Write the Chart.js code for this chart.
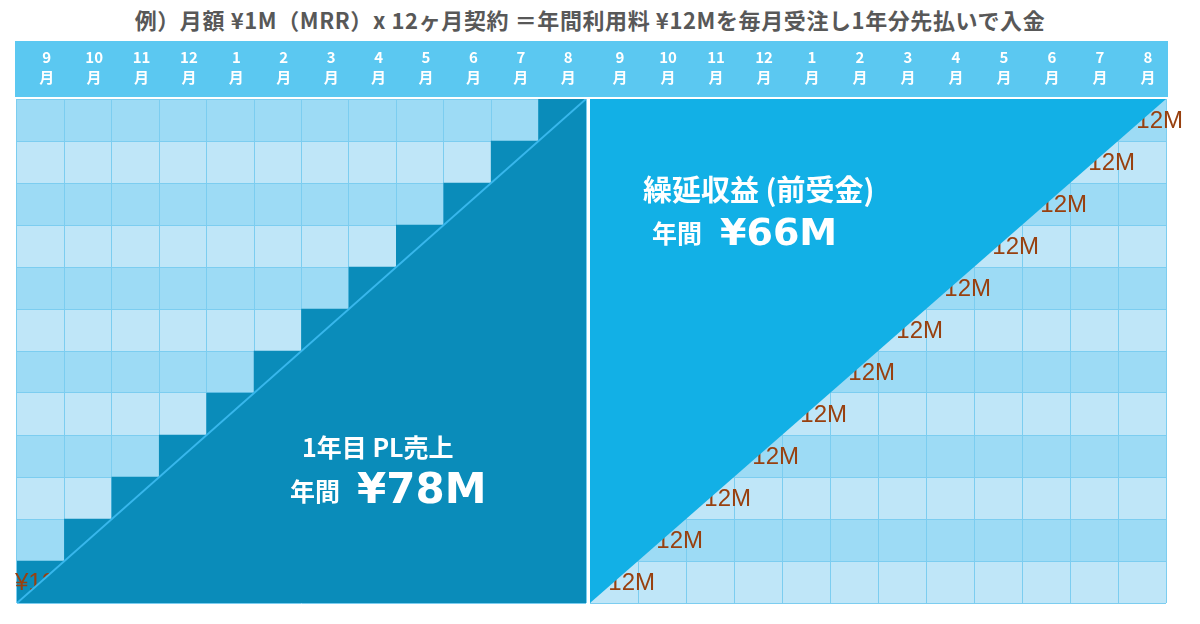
<!DOCTYPE html>
<html>
<head>
<meta charset="utf-8">
<script src="https://cdn.jsdelivr.net/npm/chart.js"></script>
<style>
body { margin: 0; background: #ffffff; width: 1200px; height: 624px; overflow: hidden; position: relative; }
#titre { position: absolute; left: 0; top: 3px; width: 1180px; text-align: center; font: bold 22px "Noto Sans CJK JP", sans-serif; letter-spacing: 0.6px; color: #585858; }
#gauche { position: absolute; left: 0; top: 41px; }
#droite { position: absolute; left: 588px; top: 41px; }
</style>
</head>
<body>
<div id="titre">例）月額 ¥1M（MRR）x 12ヶ月契約 ＝年間利用料 ¥12Mを毎月受注し1年分先払いで入金</div>
<canvas id="gauche" width="588" height="583"></canvas>
<canvas id="droite" width="612" height="583"></canvas>
<script>
// mois du contrat (sept -> aout)
var months = ["9", "10", "11", "12", "1", "2", "3", "4", "5", "6", "7", "8"];
// PL : mois reconnus cumulés (escalier)
var plMonths = [1, 2, 3, 4, 5, 6, 7, 8, 9, 10, 11, 12];
// diagonale 0 -> 12
var diagonal = [{x: 0, y: 0}, {x: 12, y: 12}];
var orderLabel = "¥12M";
var leftLabelRows = [0];
var rightLabelRows = [0, 1, 2, 3, 4, 5, 6, 7, 8, 9, 10, 11];

var DARK = "#0a8cba";
var BRIGHT = "#12b0e6";
var HEADER = "#5bc8f1";
var ROW_LIGHT = "#bfe6f8";
var ROW_MED = "#9ddbf5";
var GRID = "#7ccdf0";
var BROWN = "#98400f";

var fondPlugin = {
    id: "fond",
    beforeDraw: function (chart) {
        var ctx = chart.ctx;
        var a = chart.chartArea;
        var y = chart.scales.y;
        ctx.save();
        ctx.fillStyle = HEADER;
        ctx.fillRect(a.left - 2, 0, a.right - a.left + 4, a.top - 2);
        for (var r = 0; r < 12; r++) {
            ctx.fillStyle = (r % 2 == 0) ? ROW_LIGHT : ROW_MED;
            var top = y.getPixelForValue(r + 1);
            var bot = y.getPixelForValue(r);
            ctx.fillRect(a.left, top, a.right - a.left, bot - top);
        }
        ctx.restore();
    }
};

function drawLabels(chart) {
    var opts = chart.options.plugins.etiquettes;
    var ctx = chart.ctx;
    ctx.save();
    ctx.fillStyle = BROWN;
    ctx.font = "24px 'Liberation Sans', sans-serif";
    ctx.textBaseline = "middle";
    ctx.textAlign = "left";
    for (var k = 0; k < opts.rows.length; k++) {
        var r = opts.rows[k];
        var px = chart.scales.x2.getPixelForValue(r) + opts.dx;
        var py = chart.scales.y.getPixelForValue(r + 0.5) + 1;
        ctx.fillText(orderLabel, px, py);
    }
    ctx.restore();
}

var etiquettesPlugin = {
    id: "etiquettes",
    beforeDatasetsDraw: function (chart) {
        var hasBar = chart.data.datasets.some(function (d) { return d.type == "bar"; });
        if (!hasBar) drawLabels(chart);
    },
    afterDatasetDraw: function (chart, args) {
        if (args.meta.type == "bar") drawLabels(chart);
    },
    afterDraw: function (chart) {
        var textes = chart.options.plugins.etiquettes.textes;
        var ctx = chart.ctx;
        ctx.save();
        ctx.fillStyle = "#ffffff";
        ctx.textAlign = "left";
        for (var i = 0; i < textes.length; i++) {
            var t = textes[i];
            ctx.font = t.font;
            ctx.textBaseline = t.base;
            ctx.fillText(t.text, t.x, t.y);
        }
        ctx.restore();
    }
};

function makeScales() {
    return {
        x: {
            type: "category",
            position: "top",
            offset: true,
            grid: { offset: true, color: GRID, lineWidth: 1, drawTicks: false },
            border: { display: false },
            ticks: {
                color: "#ffffff",
                font: { family: "'Noto Sans CJK JP', sans-serif", size: 15, weight: "bold", lineHeight: 1.3 },
                padding: 12,
                labelOffset: 6,
                maxRotation: 0,
                autoSkip: false
            },
            afterFit: function (scale) { scale.height = 58; }
        },
        x2: { type: "linear", min: 0, max: 12, offset: false, display: false },
        y: {
            min: 0,
            max: 12,
            offset: false,
            ticks: { display: false, stepSize: 1 },
            grid: { color: GRID, lineWidth: 1, drawTicks: false },
            border: { display: false }
        }
    };
}

var leftData = {
    labels: months.map(function (m) { return [m, "月"]; }),
    datasets: [{
        type: "line",
        xAxisID: "x2",
        yAxisID: "y",
        data: diagonal,
        fill: "origin",
        backgroundColor: DARK,
        borderColor: "#38b7ec",
        borderWidth: 2,
        pointRadius: 0,
        order: 0
    }, {
        type: "bar",
        xAxisID: "x",
        yAxisID: "y",
        data: plMonths,
        backgroundColor: DARK,
        borderWidth: 0,
        grouped: false,
        barPercentage: 1,
        categoryPercentage: 1,
        order: 1
    }]
};

var rightData = {
    labels: months.map(function (m) { return [m, "月"]; }),
    datasets: [{
        type: "line",
        xAxisID: "x2",
        yAxisID: "y",
        data: diagonal,
        fill: "end",
        backgroundColor: BRIGHT,
        borderColor: BRIGHT,
        borderWidth: 0,
        pointRadius: 0,
        order: 0
    }]
};

var leftChart = new Chart(document.getElementById("gauche"), {
    type: "bar",
    data: leftData,
    options: {
        responsive: false,
        animation: false,
        layout: { padding: { left: 17, right: 2, top: 0, bottom: 21 } },
        scales: makeScales(),
        plugins: {
            legend: { display: false },
            tooltip: { enabled: false },
            etiquettes: {
                rows: leftLabelRows,
                dx: -2,
                textes: [
                    { text: "1年目 PL売上", x: 302, y: 406, base: "middle", font: "bold 25px 'Noto Sans CJK JP', sans-serif" },
                    { text: "年間", x: 290, y: 450, base: "middle", font: "bold 25px 'Noto Sans CJK JP', sans-serif" },
                    { text: "¥78M", x: 357, y: 462, base: "alphabetic", font: "bold 42px 'DejaVu Sans', sans-serif" }
                ]
            }
        }
    },
    plugins: [fondPlugin, etiquettesPlugin]
});

var rightChart = new Chart(document.getElementById("droite"), {
    type: "bar",
    data: rightData,
    options: {
        responsive: false,
        animation: false,
        layout: { padding: { left: 2, right: 34, top: 0, bottom: 21 } },
        scales: makeScales(),
        plugins: {
            legend: { display: false },
            tooltip: { enabled: false },
            etiquettes: {
                rows: rightLabelRows,
                dx: 5,
                textes: [
                    { text: "繰延収益 (前受金)", x: 55, y: 149, base: "middle", font: "bold 29px 'Noto Sans CJK JP', sans-serif" },
                    { text: "年間", x: 64, y: 192, base: "middle", font: "bold 25px 'Noto Sans CJK JP', sans-serif" },
                    { text: "¥66M", x: 132, y: 204, base: "alphabetic", font: "bold 38px 'DejaVu Sans', sans-serif" }
                ]
            }
        }
    },
    plugins: [fondPlugin, etiquettesPlugin]
});
</script>
</body>
</html>
